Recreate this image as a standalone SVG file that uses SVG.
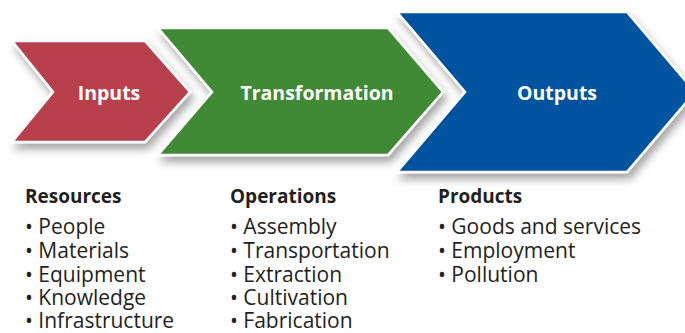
<svg xmlns="http://www.w3.org/2000/svg" width="685" height="333" viewBox="0 0 685 333">
  <defs>
    <filter id="sh" x="-10%" y="-20%" width="130%" height="150%">
      <feDropShadow dx="3" dy="6" stdDeviation="4" flood-color="#000" flood-opacity="0.35"/>
    </filter>
  </defs>
  <style>
    .chev { stroke: #ffffff; stroke-width: 2.5; stroke-linejoin: miter; filter: url(#sh); }
    .lbl { font-family: "Open Sans", "Noto Sans", sans-serif; font-weight: bold; font-size: 19.5px; fill: #ffffff; text-anchor: middle; }
    .hd { font-family: "Open Sans", "Noto Sans", sans-serif; font-weight: bold; font-size: 19px; fill: #231f20; }
    .it { font-family: "Open Sans", "Noto Sans", sans-serif; font-size: 21px; fill: #231f20; }
  </style>
  <rect width="685" height="333" fill="#ffffff"/>
  <g id="outputs">
    <polygon class="chev" fill="#00539f" points="397,12 627,12 695,92 627,172 397,172 465,92"/>
    <text class="lbl" x="557" y="100">Outputs</text>
  </g>
  <g id="transformation">
    <polygon class="chev" fill="#418a35" points="158,28 388,28 443,92 388,155 158,155 212,92"/>
    <text class="lbl" x="317" y="100">Transformation</text>
  </g>
  <g id="inputs">
    <polygon class="chev" fill="#b83f4e" points="12,41 145,41 190,92 145,142 12,142 53,92"/>
    <text class="lbl" x="109" y="100">Inputs</text>
  </g>
  <g id="connectors"/>
  <g id="resources">
    <text class="hd" x="25" y="203">Resources</text>
    <text class="it" x="25" y="234">• People</text>
    <text class="it" x="25" y="258">• Materials</text>
    <text class="it" x="25" y="282">• Equipment</text>
    <text class="it" x="25" y="305">• Knowledge</text>
    <text class="it" x="25" y="328">• Infrastructure</text>
  </g>
  <g id="operations">
    <text class="hd" x="230" y="203">Operations</text>
    <text class="it" x="230" y="234">• Assembly</text>
    <text class="it" x="230" y="258">• Transportation</text>
    <text class="it" x="230" y="282">• Extraction</text>
    <text class="it" x="230" y="305">• Cultivation</text>
    <text class="it" x="230" y="328">• Fabrication</text>
  </g>
  <g id="products">
    <text class="hd" x="438" y="203">Products</text>
    <text class="it" x="438" y="234">• Goods and services</text>
    <text class="it" x="438" y="258">• Employment</text>
    <text class="it" x="438" y="282">• Pollution</text>
  </g>
</svg>
